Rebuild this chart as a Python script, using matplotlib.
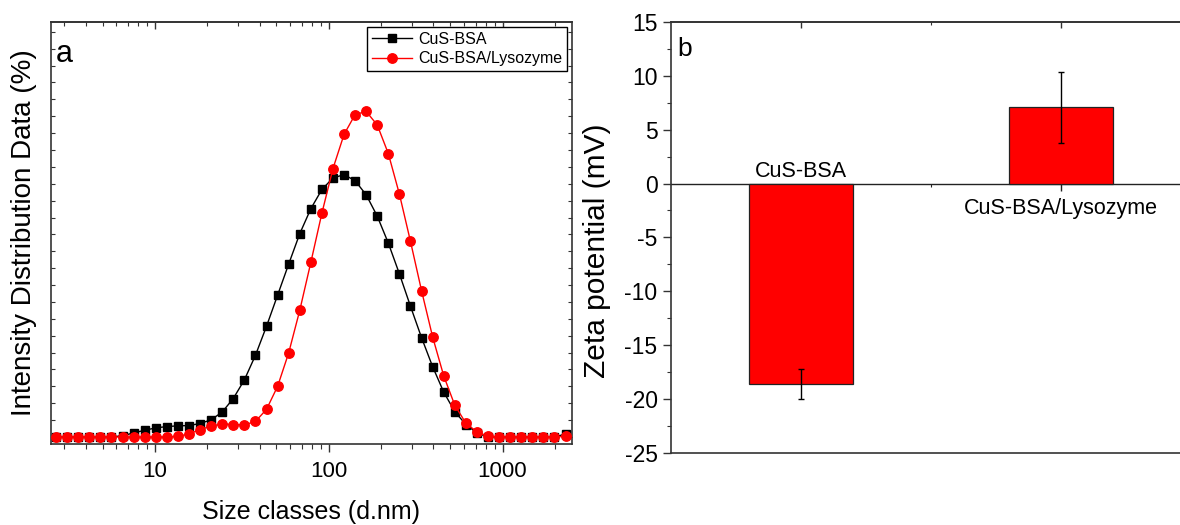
import matplotlib
matplotlib.use('Agg')
import matplotlib.pyplot as plt
from matplotlib.ticker import MultipleLocator, FixedLocator, NullFormatter, LogLocator

plt.rcParams['font.family'] = ['Liberation Sans', 'DejaVu Sans']

# ---------------- data ----------------
size_nm = [2.696, 3.122, 3.615, 4.187, 4.849, 5.615, 6.503, 7.531, 8.721, 10.10,
           11.70, 13.54, 15.69, 18.17, 21.04, 24.36, 28.21, 32.67, 37.84, 43.82,
           50.75, 58.77, 68.06, 78.82, 91.28, 105.7, 122.4, 141.8, 164.2, 190.1,
           220.2, 255.0, 295.3, 342.0, 396.1, 458.7, 531.2, 615.1, 712.4, 825.0,
           955.4, 1106, 1281, 1484, 1718, 1990, 2305]

cus_bsa = [0, 0, 0, 0, 0, 0, 0.04, 0.12, 0.20, 0.27,
           0.31, 0.33, 0.34, 0.40, 0.51, 0.74, 1.14, 1.69, 2.42, 3.28,
           4.20, 5.12, 6.02, 6.76, 7.33, 7.67, 7.77, 7.59, 7.17, 6.54,
           5.74, 4.83, 3.87, 2.94, 2.08, 1.33, 0.75, 0.37, 0.12, 0,
           0, 0, 0, 0, 0, 0, 0.09]

cus_bsa_lys = [0, 0, 0, 0, 0, 0, 0, 0, 0, 0,
               0, 0.02, 0.09, 0.22, 0.32, 0.39, 0.37, 0.36, 0.46, 0.82,
               1.50, 2.49, 3.75, 5.17, 6.63, 7.95, 8.96, 9.55, 9.64, 9.24,
               8.39, 7.19, 5.79, 4.33, 2.96, 1.81, 0.94, 0.41, 0.15, 0.02,
               0, 0, 0, 0, 0, 0, 0.02]

series_labels = ['CuS-BSA', 'CuS-BSA/Lysozyme']
x_ticks_a = [10, 100, 1000]
x_ticklabels_a = ['10', '100', '1000']

zeta_categories = ['CuS-BSA', 'CuS-BSA/Lysozyme']
zeta_pos = [1, 2]
zeta_values = [-18.6, 7.1]
zeta_errors = [1.4, 3.3]
y_ticks_b = [-25, -20, -15, -10, -5, 0, 5, 10, 15]

SPINE = '#333333'

fig = plt.figure(figsize=(11.8, 5.25), dpi=100)

# ---------------- panel a ----------------
ax1 = fig.add_axes([51/1180, 1-444/525, 521/1180, 422/525])
ax1.plot(size_nm, cus_bsa, color='black', lw=1.0, marker='s', ms=6.0,
         mfc='black', mec='black', label=series_labels[0], zorder=3)
ax1.plot(size_nm, cus_bsa_lys, color='red', lw=1.0, marker='o', ms=6.8,
         mfc='red', mec='red', label=series_labels[1], zorder=4)
ax1.set_xscale('log')
ax1.set_xlim(2.52, 2510)
ax1.set_ylim(-0.207, 12.29)
ax1.set_xticks(x_ticks_a)
ax1.set_xticklabels(x_ticklabels_a)
ax1.xaxis.set_minor_locator(LogLocator(base=10, subs=range(2, 10)))
ax1.xaxis.set_minor_formatter(NullFormatter())
ax1.tick_params(axis='x', which='major', direction='out', length=6, width=1,
                labelsize=16, pad=6, color=SPINE)
ax1.tick_params(axis='x', which='minor', direction='out', length=3.5, width=0.8, color=SPINE)
ax1.yaxis.set_major_locator(MultipleLocator(0.5))
ax1.tick_params(axis='y', which='both', direction='in', left=True, right=True,
                labelleft=False, length=3, width=0.8, color=SPINE)
top1 = ax1.secondary_xaxis('top')
top1.xaxis.set_major_locator(FixedLocator(x_ticks_a))
top1.xaxis.set_minor_locator(LogLocator(base=10, subs=range(2, 10)))
top1.xaxis.set_minor_formatter(NullFormatter())
top1.tick_params(which='both', direction='in', labeltop=False, color=SPINE)
top1.tick_params(which='major', length=5, width=1)
top1.tick_params(which='minor', length=3, width=0.8)
top1.spines['top'].set_color(SPINE)
top1.spines['top'].set_linewidth(1.2)
for s in ax1.spines.values():
    s.set_color(SPINE)
    s.set_linewidth(1.2)
ax1.set_xlabel('Size classes (d.nm)', fontsize=18, labelpad=13)
ax1.set_ylabel('Intensity Distribution Data (%)', fontsize=20, labelpad=10)
ax1.text(0.010, 0.96, 'a', transform=ax1.transAxes, fontsize=22, ha='left', va='top')
leg = ax1.legend(loc='upper right', fontsize=11.5, frameon=True, fancybox=False,
                 edgecolor='black', framealpha=1, borderaxespad=0.3,
                 handlelength=2.5, handletextpad=0.4, borderpad=0.3,
                 labelspacing=0.3)
leg.get_frame().set_linewidth(1.0)

# ---------------- panel b ----------------
ax2 = fig.add_axes([670.7/1180, 1-452.7/525, 520.4/1180, 430.7/525])
ax2.bar(zeta_pos, zeta_values, width=0.4, color='red', edgecolor='#222222',
        linewidth=0.9, yerr=zeta_errors, capsize=2.5,
        error_kw=dict(elinewidth=1.0, ecolor='black', capthick=1.0), zorder=2)
ax2.set_xlim(0.5, 2.5)
ax2.set_ylim(-25, 15)
ax2.set_yticks(y_ticks_b)
ax2.set_yticklabels([str(v) for v in y_ticks_b])
ax2.yaxis.set_minor_locator(MultipleLocator(2.5))
ax2.tick_params(axis='y', which='major', direction='out', length=6, width=1,
                labelsize=16.5, color=SPINE)
ax2.tick_params(axis='y', which='minor', direction='out', length=3, width=0.8, color=SPINE)
ax2.tick_params(axis='x', which='both', bottom=False, labelbottom=False)
for s in ax2.spines.values():
    s.set_color(SPINE)
    s.set_linewidth(1.2)
ax2.set_ylabel('Zeta potential (mV)', fontsize=21.5, labelpad=6)
ax2.yaxis.set_label_coords(-0.115, 0.47)

top2 = ax2.secondary_xaxis('top')
top2.xaxis.set_major_locator(FixedLocator(zeta_pos))
top2.xaxis.set_minor_locator(FixedLocator([1.5]))
top2.tick_params(which='both', direction='in', labeltop=False, color=SPINE)
top2.tick_params(which='major', length=4, width=1)
top2.tick_params(which='minor', length=2.5, width=0.8)
top2.spines['top'].set_color(SPINE)
top2.spines['top'].set_linewidth(1.2)

zero_axis = ax2.secondary_xaxis(25/40)
zero_axis.xaxis.set_major_locator(FixedLocator(zeta_pos))
zero_axis.xaxis.set_minor_locator(FixedLocator([1.5]))
zero_axis.tick_params(which='both', direction='in', labeltop=False, labelbottom=False,
                      color='#222222')
zero_axis.tick_params(which='major', length=5, width=1)
zero_axis.tick_params(which='minor', length=2.5, width=0.8)
for s in zero_axis.spines.values():
    s.set_color('#222222')
    s.set_linewidth(1.0)

for xp, val, lab in zip(zeta_pos, zeta_values, zeta_categories):
    if val < 0:
        ax2.annotate(lab, xy=(xp, 0), xytext=(0, 4.5), textcoords='offset points',
                     ha='center', va='baseline', fontsize=15.5)
    else:
        ax2.annotate(lab, xy=(xp, 0), xytext=(0, -22), textcoords='offset points',
                     ha='center', va='baseline', fontsize=15.5)

ax2.text(0.012, 0.965, 'b', transform=ax2.transAxes, fontsize=19, ha='left', va='top')

fig.savefig('out.png', dpi=100)
